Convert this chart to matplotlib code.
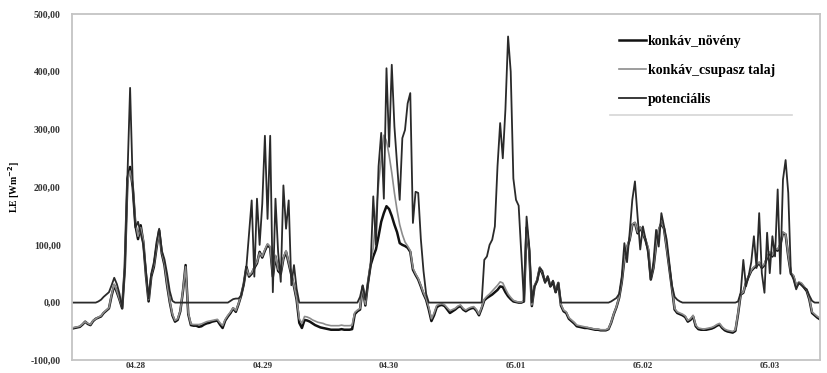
import numpy as np
import matplotlib
matplotlib.use("Agg")
import matplotlib.pyplot as plt
from matplotlib.ticker import FuncFormatter

# half-hourly values, 04.28 00:00 -> 05.03 21:30, one line per day
novenyt = [
    -45, -44, -43, -42, -38, -33, -37, -39, -32, -28, -26, -24, -18, -14, -10, 12, 30, 18, 5, -10, 60, 215, 235, 200, 134, 110, 134, 105, 47, 2, 45, 62, 95, 125, 85, 65, 30, 1, -22, -33, -30, -15, 20, 65, -20, -39, -40, -40,
    -42, -41, -38, -36, -35, -33, -32, -31, -38, -44, -31, -24, -18, -10, -16, -3, 12, 32, 62, 45, 50, 60, 68, 88, 78, 90, 100, 95, 45, 80, 55, 50, 76, 88, 68, 48, 28, 5, -35, -44, -30, -31, -33, -36, -39, -41, -43, -44,
    -45, -46, -47, -47, -47, -47, -46, -47, -47, -47, -46, -20, -15, -12, 28, -5, 34, 65, 80, 92, 115, 140, 155, 167, 162, 150, 135, 122, 103, 100, 98, 95, 88, 57, 48, 40, 28, 15, 5, -12, -32, -22, -8, -5, -4, -6, -12, -18,
    -15, -12, -8, -6, -12, -15, -12, -10, -9, -14, -22, -10, 4, 8, 11, 14, 18, 22, 28, 27, 18, 11, 6, 2, 1, 0, 0, 2, 130, 90, -6, 28, 38, 60, 50, 36, 44, 28, 36, 18, 34, -5, -15, -18, -28, -32, -36, -41,
    -42, -43, -44, -44, -45, -46, -47, -47, -48, -48, -48, -46, -35, -20, -8, 8, 35, 75, 95, 109, 135, 138, 120, 130, 120, 108, 92, 40, 60, 100, 125, 138, 128, 95, 60, 25, -12, -18, -20, -22, -25, -33, -30, -24, -41, -46, -47, -47,
    -47, -46, -45, -43, -40, -38, -44, -48, -50, -51, -52, -49, -20, 14, 17, 34, 45, 55, 60, 63, 69, 60, 65, 78, 86, 80, 92, 90, 100, 121, 118, 80, 50, 45, 28, 34, 32, 26, 20, 5, -18, -22, -26, -29,
]

csupasz = [
    -44, -43, -42, -41, -37, -33, -36, -38, -31, -28, -25, -23, -17, -13, -9, 14, 32, 20, 6, -8, 62, 210, 228, 205, 140, 115, 130, 108, 50, 5, 48, 65, 98, 120, 88, 68, 33, 3, -20, -31, -28, -14, 22, 62, -18, -37, -38, -38,
    -38, -37, -35, -33, -32, -31, -30, -29, -35, -40, -29, -22, -16, -9, -14, -2, 13, 33, 60, 47, 52, 62, 70, 86, 80, 92, 102, 97, 48, 82, 58, 52, 78, 90, 70, 50, 30, 8, -28, -36, -24, -25, -27, -30, -32, -34, -35, -36,
    -38, -39, -40, -40, -40, -40, -39, -40, -40, -40, -39, -17, -13, -10, 29, -3, 36, 70, 95, 150, 205, 250, 290, 280, 255, 225, 190, 160, 135, 118, 105, 98, 90, 60, 50, 42, 30, 17, 7, -8, -28, -18, -5, -3, -2, -4, -9, -14,
    -12, -10, -6, -4, -10, -13, -10, -8, -7, -12, -20, -8, 6, 11, 15, 20, 25, 30, 36, 34, 24, 15, 9, 4, 2, 1, 1, 3, 128, 88, -4, 30, 40, 62, 52, 38, 45, 30, 38, 20, 35, -3, -13, -16, -26, -30, -34, -39,
    -40, -41, -42, -43, -44, -45, -46, -46, -47, -47, -47, -45, -34, -19, -7, 9, 37, 77, 97, 110, 136, 139, 122, 131, 121, 110, 94, 42, 62, 102, 126, 139, 129, 96, 62, 27, -10, -16, -18, -20, -23, -31, -28, -22, -39, -44, -45, -46,
    -45, -44, -43, -41, -38, -36, -42, -46, -48, -49, -50, -47, -18, 15, 18, 35, 46, 56, 62, 65, 70, 62, 67, 80, 88, 82, 94, 92, 102, 122, 119, 82, 52, 47, 30, 36, 34, 28, 22, 7, -16, -20, -24, -27,
]

potencialis = [
    0, 0, 0, 0, 0, 0, 0, 0, 0, 0, 2, 5, 10, 14, 18, 30, 43, 32, 15, -10, 60, 220, 372, 205, 130, 140, 120, 100, 55, 7, 50, 70, 105, 128, 90, 75, 50, 20, 3, 0, 0, 0, 0, 0, 0, 0, 0, 0,
    0, 0, 0, 0, 0, 0, 0, 0, 0, 0, 0, 0, 3, 6, 7, 7, 12, 32, 62, 120, 177, 45, 180, 100, 171, 289, 145, 289, 18, 180, 88, 36, 203, 128, 177, 30, 65, 24, 0, 0, 0, 0, 0, 0, 0, 0, 0, 0,
    0, 0, 0, 0, 0, 0, 0, 0, 0, 0, 0, 0, 0, 10, 30, 5, 34, 65, 184, 100, 236, 294, 180, 406, 270, 412, 305, 240, 178, 285, 299, 345, 363, 138, 192, 190, 110, 55, 15, 0, 0, 0, 0, 0, 0, 0, 0, 0,
    0, 0, 0, 0, 0, 0, 0, 0, 0, 0, 0, 0, 74, 80, 100, 109, 132, 236, 311, 250, 335, 461, 400, 215, 178, 168, 86, 2, 149, 97, 0, 28, 38, 60, 55, 34, 46, 28, 38, 18, 34, 0, 0, 0, 0, 0, 0, 0,
    0, 0, 0, 0, 0, 0, 0, 0, 0, 0, 0, 0, 2, 5, 8, 15, 45, 103, 70, 121, 178, 210, 149, 92, 132, 110, 85, 40, 70, 126, 97, 155, 132, 109, 69, 30, 10, 5, 2, 0, 0, 0, 0, 0, 0, 0, 0, 0,
    0, 0, 0, 0, 0, 0, 0, 0, 0, 0, 0, 0, 2, 17, 74, 28, 46, 70, 115, 60, 155, 51, 17, 121, 51, 115, 80, 196, 50, 213, 247, 190, 51, 40, 23, 34, 30, 26, 23, 12, 3, 0, 0, 0,
]

day_labels = ["04.28", "04.29", "04.30", "05.01", "05.02", "05.03"]
day_ticks = [12, 36, 60, 84, 108, 132]   # hours from 04.28 00:00

hours = np.arange(len(novenyt)) * 0.5

plt.rcParams['font.family'] = ['Liberation Serif', 'DejaVu Serif']
plt.rcParams['font.weight'] = 'bold'

fig = plt.figure(figsize=(8.27, 3.73), dpi=100)
ax = fig.add_axes([0.087, 0.034, 0.9045, 0.9285])

ax.plot(hours, novenyt, color='#111111', lw=1.8, label='konkáv_növény')
ax.plot(hours, csupasz, color='#8c8c8c', lw=1.2, label='konkáv_csupasz talaj')
ax.plot(hours, potencialis, color='#2a2a2a', lw=1.3, label='potenciális')

ax.set_xlim(0, 141.5)
ax.set_ylim(-100, 500)
ax.set_yticks(np.arange(-100, 501, 100))
ax.yaxis.set_major_formatter(FuncFormatter(lambda v, p: f"{v:.2f}".replace('.', ',')))
ax.set_xticks(day_ticks)
ax.set_xticklabels(day_labels)
ax.tick_params(axis='both', length=0, labelsize=7, colors='#333333')
ax.tick_params(axis='y', pad=8)
ax.tick_params(axis='x', pad=1.5, labelsize=6.5)

for s in ax.spines.values():
    s.set_color('#c4c4c4')
    s.set_linewidth(1.3)

ax.set_ylabel('LE [Wm$^{-2}$]', fontsize=7, fontweight='bold', labelpad=6)

leg = ax.legend(loc='upper left', bbox_to_anchor=(0.714, 0.975), frameon=False,
                fontsize=10, handlelength=2.0, handletextpad=0.1, labelspacing=1.15)
for t in leg.get_texts():
    t.set_fontweight('bold')
ax.plot([0.719, 0.962], [0.709, 0.709], transform=ax.transAxes, color='#d6d6d6', lw=1.2)

fig.savefig('out.png', dpi=100)
